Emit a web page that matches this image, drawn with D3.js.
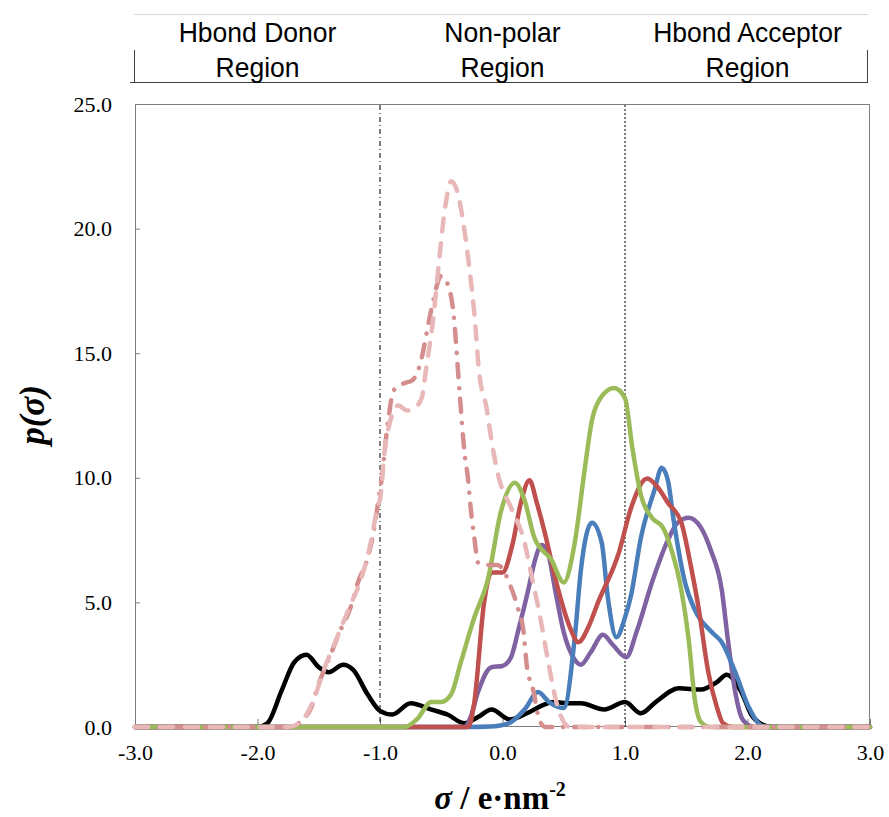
<!DOCTYPE html>
<html>
<head>
<meta charset="utf-8">
<title>sigma profiles</title>
<style>
  body { margin: 0; background: #fff; }
  svg { display: block; }
</style>
</head>
<body>
<svg id="chart"></svg>
<script src="https://d3js.org/d3.v7.min.js"></script>
<script>
// sigma profiles (sigma in e/nm^2, p(sigma))
var blackSigma = [-3.0, -2.0, -1.92, -1.8, -1.7, -1.6, -1.5, -1.42, -1.3, -1.22, -1.1, -1.0, -0.9, -0.75, -0.58, -0.45, -0.31, -0.2, -0.09, 0.06, 0.2, 0.34, 0.42, 0.55, 0.64, 0.83, 1.0, 1.13, 1.25, 1.44, 1.62, 1.75, 1.83, 1.95, 2.03, 2.12, 2.2, 3.0];
var blackP     = [0, 0, 0.15, 1.5, 2.6, 2.9, 2.4, 2.2, 2.5, 2.3, 1.3, 0.65, 0.5, 0.95, 0.7, 0.5, 0.15, 0.4, 0.7, 0.3, 0.55, 0.9, 1.0, 0.95, 0.95, 0.7, 1.0, 0.55, 1.0, 1.55, 1.5, 1.8, 2.1, 1.4, 0.5, 0.1, 0, 0];

var purpleSigma = [-3.0, -0.31, -0.26, -0.2, -0.09, 0.0, 0.07, 0.13, 0.21, 0.26, 0.32, 0.37, 0.43, 0.5, 0.59, 0.64, 0.72, 0.82, 0.9, 1.01, 1.1, 1.22, 1.35, 1.43, 1.52, 1.62, 1.7, 1.79, 1.84, 1.9, 1.95, 2.0, 2.05, 3.0];
var purpleP     = [0, 0, 0.4, 1.4, 2.4, 2.45, 2.8, 3.9, 5.5, 6.6, 7.3, 7.0, 5.5, 3.8, 2.7, 2.5, 3.0, 3.7, 3.3, 2.8, 3.9, 5.8, 7.5, 8.2, 8.4, 8.0, 7.1, 5.5, 3.5, 1.4, 0.4, 0.1, 0, 0];

var blueSigma = [-3.0, -0.28, -0.1, 0.05, 0.18, 0.29, 0.38, 0.5, 0.59, 0.64, 0.73, 0.81, 0.86, 0.93, 1.0, 1.05, 1.13, 1.24, 1.3, 1.35, 1.4, 1.49, 1.57, 1.71, 1.79, 1.9, 2.01, 2.09, 2.15, 3.0];
var blueP     = [0, 0, 0.02, 0.15, 0.7, 1.4, 1.0, 0.76, 3.6, 6.3, 8.2, 7.4, 5.2, 3.6, 4.4, 5.3, 7.6, 9.5, 10.4, 9.9, 8.2, 5.8, 4.7, 3.8, 3.4, 2.2, 0.8, 0.15, 0, 0];

var redSigma = [-3.0, -0.28, -0.23, -0.15, -0.09, 0.0, 0.08, 0.15, 0.22, 0.28, 0.34, 0.45, 0.55, 0.62, 0.7, 0.78, 0.95, 1.05, 1.18, 1.27, 1.35, 1.46, 1.54, 1.6, 1.68, 1.75, 1.8, 1.88, 3.0];
var redP     = [0, 0, 1.0, 5.0, 6.2, 6.2, 7.3, 9.0, 9.9, 9.0, 7.9, 5.6, 4.0, 3.4, 4.0, 5.0, 7.0, 8.8, 9.97, 9.6, 9.0, 8.2, 6.4, 4.8, 2.2, 0.8, 0.15, 0, 0];

var greenSigma = [-3.0, -0.8, -0.7, -0.58, -0.5, -0.42, -0.34, -0.23, -0.12, -0.01, 0.1, 0.18, 0.26, 0.4, 0.5, 0.59, 0.67, 0.73, 0.8, 0.91, 1.0, 1.06, 1.13, 1.22, 1.31, 1.38, 1.46, 1.52, 1.57, 1.62, 1.7, 3.0];
var greenP     = [0, 0, 0.3, 1.0, 1.0, 1.3, 2.6, 4.4, 5.9, 8.7, 9.8, 9.1, 7.6, 6.7, 5.8, 7.4, 10.3, 12.3, 13.2, 13.6, 13.2, 11.2, 9.3, 8.4, 8.0, 7.1, 5.5, 3.5, 1.1, 0.2, 0, 0];

var roseSigma = [-3.0, -1.75, -1.63, -1.56, -1.51, -1.42, -1.33, -1.24, -1.18, -1.1, -1.05, -1.01, -0.98, -0.96, -0.93, -0.89, -0.8, -0.74, -0.66, -0.62, -0.57, -0.5, -0.45, -0.4, -0.35, -0.31, -0.28, -0.26, -0.23, -0.2, -0.12, -0.04, 0.07, 0.13, 0.17, 0.2, 0.25, 0.3, 0.35, 3.0];
var roseP     = [0, 0, 0.3, 0.8, 1.6, 2.7, 3.8, 4.8, 5.8, 6.8, 7.9, 9.2, 10.2, 11.2, 12.4, 13.5, 13.8, 13.9, 14.8, 15.8, 17.0, 18.1, 17.8, 16.6, 13.4, 11.0, 9.9, 8.8, 7.6, 6.6, 6.5, 6.5, 5.6, 4.7, 3.9, 2.4, 1.5, 0.3, 0, 0];

var pinkSigma = [-3.0, -1.75, -1.63, -1.55, -1.45, -1.35, -1.25, -1.15, -1.08, -1.03, -0.99, -0.97, -0.93, -0.85, -0.78, -0.72, -0.66, -0.62, -0.57, -0.52, -0.49, -0.45, -0.42, -0.37, -0.31, -0.27, -0.23, -0.19, -0.13, -0.09, -0.03, 0.07, 0.18, 0.24, 0.3, 0.37, 0.44, 0.5, 0.55, 3.0];
var pinkP     = [0, 0, 0.3, 1.0, 2.4, 3.6, 4.8, 6.0, 7.3, 8.6, 9.5, 10.7, 12.0, 12.9, 12.7, 12.8, 13.2, 14.5, 16.2, 18.6, 20.0, 21.4, 21.9, 21.5, 19.9, 18.4, 16.6, 14.2, 12.8, 11.5, 10.0, 8.8, 7.4, 6.0, 4.6, 2.7, 1.0, 0.2, 0, 0];

var xTicks = [-3, -2, -1, 0, 1, 2, 3];
var yTicks = [0, 5, 10, 15, 20, 25];
var regionNames = [["Hbond Donor", "Region"], ["Non-polar", "Region"], ["Hbond Acceptor", "Region"]];
var regionCenters = [-2, 0, 2];

var width = 889, height = 817;
var svg = d3.select("#chart").attr("width", width).attr("height", height);

var x = d3.scaleLinear().domain([-3, 3]).range([135, 870]);
var y = d3.scaleLinear().domain([0, 25]).range([727, 104]);

// header box with region names
svg.append("line").attr("x1", 134).attr("x2", 868).attr("y1", 14.5).attr("y2", 14.5)
    .style("stroke", "#d9d9d9").style("stroke-width", 1);
svg.append("line").attr("x1", 134.5).attr("x2", 134.5).attr("y1", 50).attr("y2", 83)
    .style("stroke", "#404040");
svg.append("line").attr("x1", 867.5).attr("x2", 867.5).attr("y1", 50).attr("y2", 83)
    .style("stroke", "#404040");
svg.append("line").attr("x1", 130).attr("x2", 868).attr("y1", 82.5).attr("y2", 82.5)
    .style("stroke", "#404040");

var regions = svg.append("g").selectAll("text")
    .data(regionNames).enter().append("text")
    .attr("text-anchor", "middle")
    .style("font-family", "'Liberation Sans', Arial, sans-serif")
    .style("font-size", "26px")
    .attr("transform", function(d, i) { return "translate(" + x(regionCenters[i]) + ",0) scale(1.02,1.08)"; });
regions.append("tspan").attr("x", 0).attr("y", 39).text(function(d) { return d[0]; });
regions.append("tspan").attr("x", 0).attr("y", 71).text(function(d) { return d[1]; });

// plot frame
svg.append("rect").attr("x", 135.5).attr("y", 104.5).attr("width", 734).attr("height", 622)
    .style("fill", "none").style("stroke", "#7f7f7f").style("stroke-width", 1);

var xAxis = svg.append("g").attr("transform", "translate(0,727)")
    .call(d3.axisBottom(x).tickValues(xTicks).tickSizeInner(-8).tickSizeOuter(0).tickPadding(17)
        .tickFormat(function(d) { return d.toFixed(1); }));
var yAxis = svg.append("g").attr("transform", "translate(135,0)")
    .call(d3.axisLeft(y).tickValues(yTicks).tickSizeInner(-5).tickSizeOuter(0).tickPadding(23)
        .tickFormat(function(d) { return d.toFixed(1); }));
[xAxis, yAxis].forEach(function(a) {
  a.select(".domain").remove();
  a.selectAll(".tick line").style("stroke", "#7f7f7f");
  a.selectAll("text").style("font-family", "'Liberation Serif', 'Times New Roman', serif")
    .style("font-size", "22px").style("fill", "#000");
});

// region separators
svg.append("line").attr("x1", x(-1)).attr("x2", x(-1)).attr("y1", 105).attr("y2", 727)
    .style("stroke", "#000").style("stroke-width", 1).style("stroke-dasharray", "5,3,1,3");
svg.append("line").attr("x1", x(1)).attr("x2", x(1)).attr("y1", 105).attr("y2", 727)
    .style("stroke", "#000").style("stroke-width", 1).style("stroke-dasharray", "2,2");

var line = d3.line()
    .x(function(d) { return x(d[0]); })
    .y(function(d) { return y(d[1]); })
    .curve(d3.curveMonotoneX);

var series = [
  { s: blackSigma,  p: blackP,  color: "#000000", dash: null },
  { s: purpleSigma, p: purpleP, color: "#7f62a1", dash: null },
  { s: blueSigma,   p: blueP,   color: "#4a7ebb", dash: null },
  { s: redSigma,    p: redP,    color: "#c0504d", dash: null },
  { s: greenSigma,  p: greenP,  color: "#9bbb59", dash: null },
  { s: roseSigma,   p: roseP,   color: "#d48e8e", dash: "13,11,0.1,11" },
  { s: pinkSigma,   p: pinkP,   color: "#e8b8b8", dash: "13,12" }
];

svg.append("g").selectAll("path")
    .data(series).enter().append("path")
    .attr("d", function(d) { return line(d3.zip(d.s, d.p)); })
    .style("fill", "none")
    .style("stroke", function(d) { return d.color; })
    .style("stroke-width", 4.5)
    .style("stroke-linecap", "round")
    .style("stroke-linejoin", "round")
    .style("stroke-dasharray", function(d) { return d.dash; });

// axis titles
svg.append("text")
    .attr("transform", "translate(44,415) rotate(-90)")
    .attr("text-anchor", "middle")
    .style("font-family", "'Liberation Serif', 'Times New Roman', serif")
    .style("font-size", "35px").style("font-weight", "bold").style("font-style", "italic")
    .text("p(σ)");

var xt = svg.append("text")
    .attr("x", 500).attr("y", 809)
    .attr("text-anchor", "middle")
    .style("font-family", "'Liberation Serif', 'Times New Roman', serif")
    .style("font-size", "33px").style("font-weight", "bold");
xt.append("tspan").style("font-style", "italic").text("σ");
xt.append("tspan").text(" / e·nm");
xt.append("tspan").attr("dy", -13).style("font-size", "20px").text("-2");
</script>
</body>
</html>
